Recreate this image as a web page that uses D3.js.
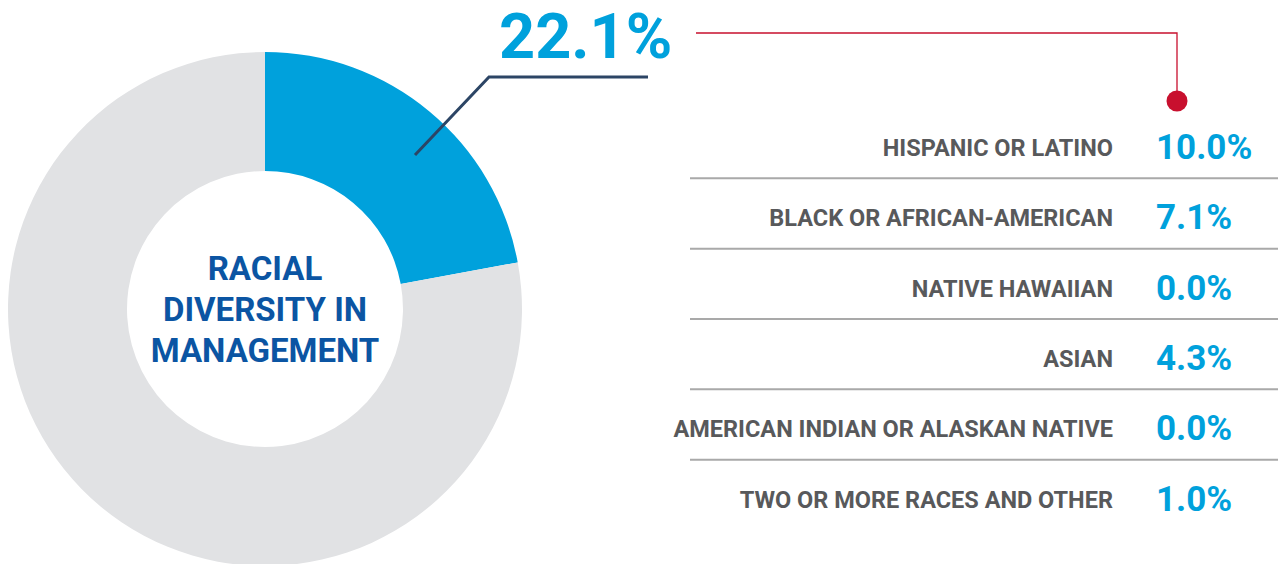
<!DOCTYPE html>
<html>
<head>
<meta charset="utf-8">
<script src="https://cdn.jsdelivr.net/npm/d3@7"></script>
<style>
  body { margin: 0; background: #fff; }
  text { font-family: Roboto, "Noto Sans", sans-serif; font-weight: 700; }
</style>
</head>
<body>
<svg id="chart"></svg>
<script>
// share of management that is racially diverse
const totalLabel = "22.1%";
const donutShares = [22.1, 77.9];
const donutColors = ["#00a1dc", "#e1e2e4"];

// breakdown table
const categories = [
  "HISPANIC OR LATINO",
  "BLACK OR AFRICAN-AMERICAN",
  "NATIVE HAWAIIAN",
  "ASIAN",
  "AMERICAN INDIAN OR ALASKAN NATIVE",
  "TWO OR MORE RACES AND OTHER"
];
const values = [10.0, 7.1, 0.0, 4.3, 0.0, 1.0];

const centerLines = ["RACIAL", "DIVERSITY IN", "MANAGEMENT"];

const width = 1278, height = 564;
const svg = d3.select("#chart").attr("width", width).attr("height", height);

// Donut
const cx = 265, cy = 309, outerR = 257, innerR = 138;
const pie = d3.pie().sort(null).value(d => d);
const arc = d3.arc().innerRadius(innerR).outerRadius(outerR);

const donut = svg.append("g").attr("transform", `translate(${cx},${cy})`);
donut.selectAll("path")
  .data(pie(donutShares))
  .join("path")
  .attr("d", arc)
  .attr("fill", (d, i) => donutColors[i]);

donut.selectAll("text")
  .data(centerLines)
  .join("text")
  .attr("text-anchor", "middle")
  .attr("y", (d, i) => -29 + i * 41)
  .attr("fill", "#0b55a3")
  .style("font-size", "33px")
  .text(d => d);

// leader line from blue slice to big number
svg.append("path")
  .attr("d", "M415,155 L489,77 L648,77")
  .attr("fill", "none")
  .attr("stroke", "#2c4565")
  .attr("stroke-width", 3);

svg.append("text")
  .attr("x", 499)
  .attr("y", 58)
  .attr("fill", "#00a1dc")
  .style("font-size", "63px")
  .text(totalLabel);

// red connector to table
svg.append("path")
  .attr("d", "M696,33 L1177,33 L1177,100")
  .attr("fill", "none")
  .attr("stroke", "#c8102e")
  .attr("stroke-width", 1.3);
svg.append("circle")
  .attr("cx", 1177).attr("cy", 101).attr("r", 10.5)
  .attr("fill", "#c8102e");

// table rows
const y = d3.scaleBand()
  .domain(categories)
  .range([108, 530]);

const rows = svg.append("g").selectAll("g")
  .data(categories)
  .join("g")
  .attr("transform", d => `translate(0,${y(d)})`);

rows.append("text")
  .attr("x", 1113)
  .attr("y", y.bandwidth() / 2 + 13)
  .attr("text-anchor", "end")
  .attr("fill", "#58595b")
  .style("font-size", "23.5px")
  .text(d => d);

rows.append("text")
  .attr("x", 1156)
  .attr("y", y.bandwidth() / 2 + 16)
  .attr("fill", "#00a1dc")
  .style("font-size", "35px")
  .text((d, i) => values[i].toFixed(1) + "%");

rows.filter((d, i) => i < categories.length - 1)
  .append("line")
  .attr("x1", 690).attr("x2", width)
  .attr("y1", y.bandwidth()).attr("y2", y.bandwidth())
  .attr("stroke", "#a9a9a9")
  .attr("stroke-width", 2);
</script>
</body>
</html>
